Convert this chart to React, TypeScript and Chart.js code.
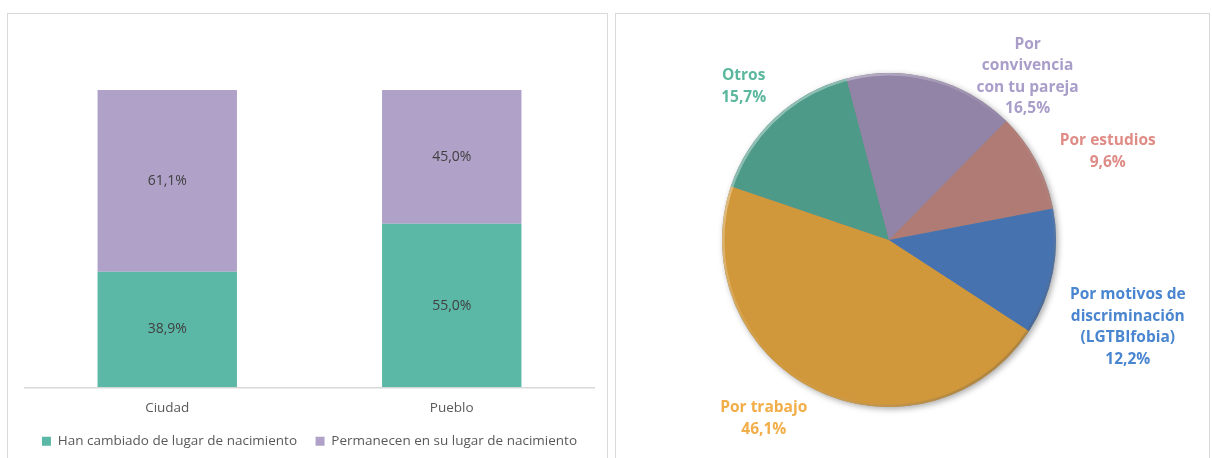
import React, { useEffect, useRef } from "react";
import { Chart, registerables } from "chart.js";

Chart.register(...registerables);

// ---------- Data ----------
const barCategories = ["Ciudad", "Pueblo"];
const seriesNames = [
  "Han cambiado de lugar de nacimiento",
  "Permanecen en su lugar de nacimiento",
];
const seriesChanged = [38.9, 55.0];
const seriesStayed = [61.1, 45.0];

const pieLabels = [
  ["Por trabajo"],
  ["Otros"],
  ["Por", "convivencia", "con tu pareja"],
  ["Por estudios"],
  ["Por motivos de", "discriminación", "(LGTBIfobia)"],
];
const pieValues = [46.1, 15.7, 16.5, 9.6, 12.2];

// ---------- Styles ----------
const FONT = "'Open Sans', 'Noto Sans', sans-serif";
const barColors = ["#5CB8A6", "#B0A1C8"];
const sliceColors = ["#D0983B", "#4D9A89", "#9284A7", "#B07B75", "#4672AF"];
const sliceLabelColors = ["#F2AE48", "#5BB89E", "#A99DC9", "#DF8C87", "#4A86D0"];
// label centre offsets, in units of the pie radius, from the pie centre
const labelOffsets = [
  [-0.75, 1.07],
  [-0.87, -0.92],
  [0.83, -0.98],
  [1.31, -0.53],
  [1.43, 0.52],
];

const fmt = (v: number) => v.toFixed(1).replace(".", ",") + "%";

const barValueLabels = {
  id: "barValueLabels",
  afterDatasetsDraw(chart: any) {
    const ctx = chart.ctx;
    ctx.save();
    ctx.font = `14px ${FONT}`;
    ctx.fillStyle = "#404040";
    ctx.textAlign = "center";
    ctx.textBaseline = "middle";
    chart.data.datasets.forEach((ds: any, di: number) => {
      const meta = chart.getDatasetMeta(di);
      meta.data.forEach((bar: any, i: number) => {
        const yMid = (bar.y + bar.base) / 2;
        ctx.fillText(fmt(ds.data[i]), bar.x, yMid);
      });
    });
    ctx.restore();
  },
};

const pieDecor = {
  id: "pieDecor",
  beforeDatasetsDraw(chart: any) {
    const arc = chart.getDatasetMeta(0).data[0];
    if (!arc) return;
    const { x, y, outerRadius } = arc;
    const ctx = chart.ctx;
    ctx.save();
    ctx.shadowColor = "rgba(0,0,0,0.35)";
    ctx.shadowBlur = 6;
    ctx.shadowOffsetX = 2;
    ctx.shadowOffsetY = 2;
    ctx.beginPath();
    ctx.arc(x, y, outerRadius, 0, Math.PI * 2);
    ctx.fillStyle = "#888";
    ctx.fill();
    ctx.restore();
  },
  afterDatasetsDraw(chart: any) {
    const meta = chart.getDatasetMeta(0);
    const first = meta.data[0];
    if (!first) return;
    const { x, y, outerRadius: r } = first;
    const ctx = chart.ctx;
    ctx.save();
    const g = ctx.createLinearGradient(x - r, y - r, x + r, y + r);
    g.addColorStop(0, "rgba(255,255,255,0.55)");
    g.addColorStop(0.5, "rgba(255,255,255,0.0)");
    g.addColorStop(1, "rgba(0,0,0,0.35)");
    ctx.strokeStyle = g;
    ctx.lineWidth = 2.5;
    ctx.beginPath();
    ctx.arc(x, y, r - 1.2, 0, Math.PI * 2);
    ctx.stroke();

    // labels
    ctx.font = `bold 15.5px ${FONT}`;
    ctx.textAlign = "center";
    ctx.textBaseline = "middle";
    const lh = 21.5;
    meta.data.forEach((el: any, i: number) => {
      const lines = [...pieLabels[i], fmt(pieValues[i])];
      const cx = x + labelOffsets[i][0] * r;
      const cy = y + labelOffsets[i][1] * r;
      ctx.fillStyle = sliceLabelColors[i];
      const top = cy - ((lines.length - 1) * lh) / 2;
      lines.forEach((t, k) => ctx.fillText(t, cx, top + k * lh));
    });
    ctx.restore();
  },
};

function BarPanel() {
  const ref = useRef<HTMLCanvasElement>(null);
  useEffect(() => {
    if (!ref.current) return;
    const chart = new Chart(ref.current, {
      type: "bar",
      data: {
        labels: barCategories,
        datasets: [
          { label: seriesNames[0], data: seriesChanged, backgroundColor: barColors[0] },
          { label: seriesNames[1], data: seriesStayed, backgroundColor: barColors[1] },
        ],
      },
      options: {
        responsive: false,
        animation: false,
        datasets: { bar: { categoryPercentage: 1, barPercentage: 0.49 } } as any,
        layout: { padding: { top: 77, left: 18, right: 14, bottom: 0 } },
        scales: {
          x: {
            stacked: true,
            grid: { display: false, drawTicks: false },
            border: { color: "#D9D9D9", width: 1.5 },
            ticks: { color: "#595959", font: { family: FONT, size: 13.5 }, padding: 13 },
          },
          y: { stacked: true, display: false, min: 0, max: 100 },
        },
        plugins: {
          legend: {
            position: "bottom",
            labels: {
              boxWidth: 9,
              boxHeight: 9,
              color: "#595959",
              font: { family: FONT, size: 13.5 },
              padding: 5,
              generateLabels: (chart: any) => {
                const items = (Chart.defaults.plugins.legend.labels as any).generateLabels(chart);
                if (items[0]) items[0].text = items[0].text + "\u2002\u2002";
                return items;
              },
            },
          },
          tooltip: { enabled: false },
        },
      },
      plugins: [barValueLabels],
    });
    return () => chart.destroy();
  }, []);
  return <canvas ref={ref} width={601} height={445} style={{ position: "absolute", left: 7, top: 13 }} />;
}

function PiePanel() {
  const ref = useRef<HTMLCanvasElement>(null);
  useEffect(() => {
    if (!ref.current) return;
    const chart = new Chart(ref.current, {
      type: "pie",
      data: {
        labels: pieLabels.map((l) => l.join(" ")),
        datasets: [
          {
            data: pieValues,
            backgroundColor: sliceColors,
            borderWidth: 0,
          },
        ],
      },
      options: {
        responsive: false,
        animation: false,
        rotation: 123,
        layout: { padding: { left: 107, right: 153, top: 60, bottom: 51 } },
        plugins: { legend: { display: false }, tooltip: { enabled: false } },
      },
      plugins: [pieDecor],
    });
    return () => chart.destroy();
  }, []);
  return <canvas ref={ref} width={594} height={445} style={{ position: "absolute", left: 615, top: 13 }} />;
}

export default function App() {
  const box: React.CSSProperties = {
    position: "absolute",
    border: "1px solid #D9D9D9",
    borderBottom: "none",
    boxSizing: "border-box",
    height: 460,
    top: 13,
  };
  return (
    <div
      style={{
        position: "fixed",
        left: 0,
        top: 0,
        width: 1212,
        height: 458,
        overflow: "hidden",
        background: "#fff",
      }}
    >
      <div style={{ ...box, left: 7, width: 601 }} />
      <div style={{ ...box, left: 615, width: 595 }} />
      <BarPanel />
      <PiePanel />
    </div>
  );
}
